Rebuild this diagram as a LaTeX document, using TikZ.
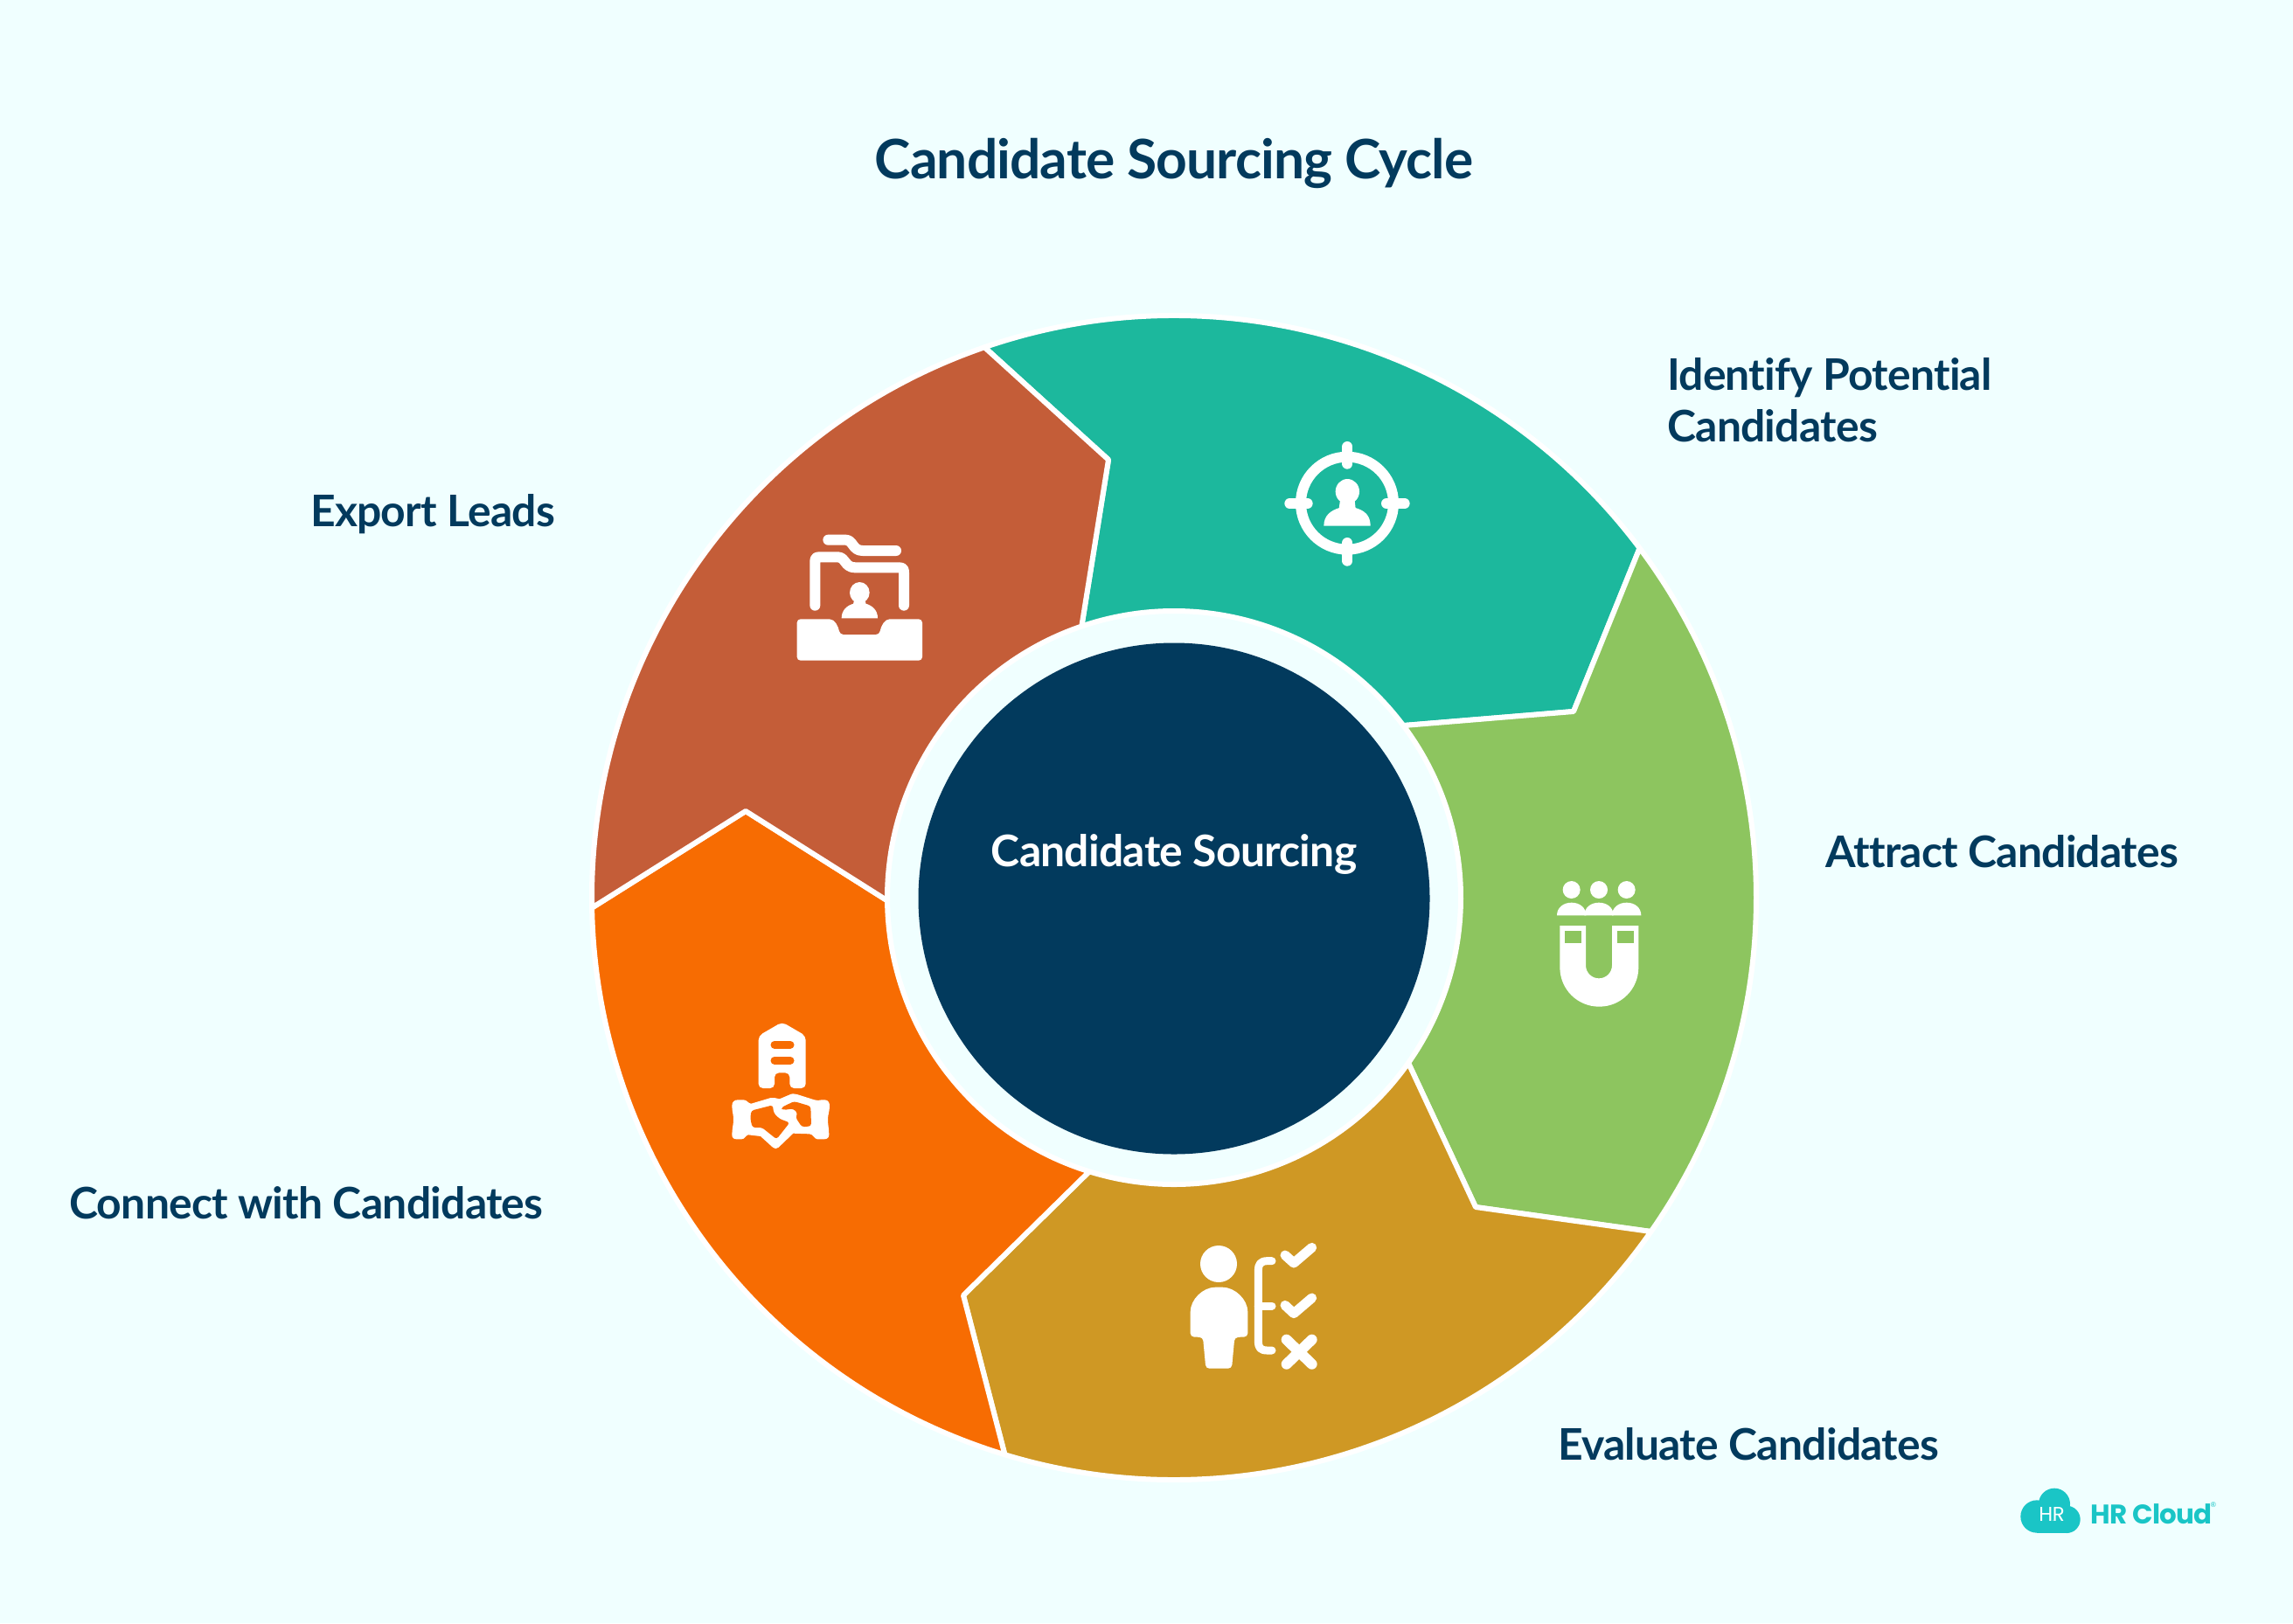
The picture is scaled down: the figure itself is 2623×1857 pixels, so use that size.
\documentclass[tikz,border=0pt]{standalone}
\usepackage{fontspec}
\setmainfont{Lato}[LetterSpace=-1.5,Ligatures=NoCommon]
\newfontfamily\logofont{Poppins}[LetterSpace=-2]
\usetikzlibrary{calc}
\definecolor{bgc}{HTML}{F0FFFF}
\definecolor{darkc}{HTML}{023A5D}
\definecolor{tealc}{HTML}{1CB89D}
\definecolor{greenc}{HTML}{8DC55F}
\definecolor{goldc}{HTML}{CF9824}
\definecolor{orangec}{HTML}{F76C02}
\definecolor{brownc}{HTML}{C45D38}
\definecolor{logoc}{HTML}{1AC5C6}
\tikzset{
  seg/.style={draw=white,line width=6bp,line join=round},
  lab/.style={text=darkc,font=\fontsize{50}{59}\selectfont\bfseries,inner sep=0pt,align=left},
  ico/.style={fill=white},
  icol/.style={draw=white,line cap=round,line join=round,line width=12bp},
  logotext/.style={text=logoc,inner sep=0pt}
}
\begin{document}
\begin{tikzpicture}[x=1bp,y=-1bp]
\fill[bgc] (0,0) rectangle (2623,1857);
\useasboundingbox (0,0) rectangle (2623,1857);
\coordinate (nBT) at (1268,526);
\coordinate (nTG) at (1800,814);
\coordinate (nGO) at (1688,1381);
\coordinate (nGR) at (1102,1482);
\coordinate (nRB) at (853,928);
% ring segments
\begin{scope}[shift={(1343,1027)},y=1bp]
\filldraw[seg,fill=tealc] (109:666) arc[start angle=109,end angle=36.9,radius=666] -- (nTG) -- (36.9:328) arc[start angle=36.9,end angle=108.8,radius=328] -- (nBT) -- cycle;
\filldraw[seg,fill=greenc] (36.9:666) arc[start angle=36.9,end angle=-35,radius=666] -- (nGO) -- (-35.2:328) arc[start angle=-35.2,end angle=36.9,radius=328] -- (nTG) -- cycle;
\filldraw[seg,fill=goldc] (-35:666) arc[start angle=-35,end angle=-106.9,radius=666] -- (nGR) -- (-107.2:328) arc[start angle=-107.2,end angle=-35.2,radius=328] -- (nGO) -- cycle;
\filldraw[seg,fill=orangec] (-106.9:666) arc[start angle=-106.9,end angle=-179,radius=666] -- (nRB) -- (-179.4:328) arc[start angle=-179.4,end angle=-107.2,radius=328] -- (nGR) -- cycle;
\filldraw[seg,fill=brownc] (-179:666) arc[start angle=-179,end angle=-251,radius=666] -- (nBT) -- (-251.2:328) arc[start angle=-251.2,end angle=-179.4,radius=328] -- (nRB) -- cycle;
\end{scope}
\node[circle,fill=darkc,minimum size=585bp,inner sep=0pt] (hub) at (1343,1028) {};
% texts
\node[lab,anchor=center,font=\fontsize{62.5}{70}\selectfont\bfseries] (title) at (1343,187) {Candidate Sourcing Cycle};
\node[lab,anchor=center,text=white] (hubtext) at (1343,977) {Candidate Sourcing};
\node[lab,anchor=west] (l1) at (1907,458) {Identify Potential\\Candidates};
\node[lab,anchor=west] (l2) at (2088,974) {Attract Candidates};
\node[lab,anchor=west] (l3) at (1782,1652) {Evaluate Candidates};
\node[lab,anchor=west] (l4) at (79,1376) {Connect with Candidates};
\node[lab,anchor=west] (l5) at (355,588) {Export Leads};
% target icon
\begin{scope}[shift={(1430,480)},scale=1/3]
\draw[icol] (333,287) circle[radius=159];
\draw[icol] (334,93)--(334,152);
\draw[icol] (334,423)--(334,485);
\draw[icol] (136,288)--(197,288);
\draw[icol] (468,288)--(530,288);
\fill[ico] (334,247) ellipse[x radius=41,y radius=43];
\fill[ico] (310,270)--(358,270)--(362,305)--(305,305)--cycle;
\fill[ico] (253,365) .. controls (253,330) and (275,312) .. (310,302) -- (358,302) .. controls (395,312) and (413,330) .. (413,365) -- cycle;
\end{scope}
% folder icon
\begin{scope}[shift={(890,590)},scale=1/3]
\draw[icol] (172,83)--(232,83) .. controls (258,83) and (255,120) .. (290,120) -- (405,120);
\draw[icol] (127,308)--(127,158) .. controls (127,146) and (130,142) .. (142,142) -- (205,142) .. controls (232,142) and (228,178) .. (265,178) -- (415,178) .. controls (428,178) and (432,182) .. (432,195) -- (432,308);
\fill[ico] (280,264) ellipse[x radius=34,y radius=36];
\fill[ico] (262,285)--(298,285)--(302,305)--(258,305)--cycle;
\fill[ico] (218,352) .. controls (218,325) and (235,308) .. (262,301) -- (298,301) .. controls (325,308) and (342,325) .. (342,352) -- cycle;
\fill[ico,rounded corners=4bp] (65,355) -- (165,355) .. controls (195,355) and (207,380) .. (212,408) -- (348,408) .. controls (353,380) and (365,355) .. (395,355) -- (495,355) -- (495,497) -- (65,497) -- cycle;
\end{scope}
% magnet icon
\begin{scope}[shift={(1760,990)},scale=1/3]
\foreach \cx in {113,207,302}{
  \fill[ico] (\cx,84) circle[radius=30];
  \fill[ico] (\cx-50,172) .. controls (\cx-50,145) and (\cx-28,128) .. (\cx,128) .. controls (\cx+28,128) and (\cx+50,145) .. (\cx+50,172) -- cycle;
}
\fill[ico] (73,207) -- (162,207) -- (162,343) .. controls (162,368) and (182,388) .. (207,388) .. controls (232,388) and (252,368) .. (252,343) -- (252,207) -- (343,207) -- (343,350) .. controls (343,425) and (283,485) .. (208,485) .. controls (133,485) and (73,425) .. (73,350) -- cycle;
\fill[greenc] (90,224) rectangle (147,268);
\fill[greenc] (270,224) rectangle (327,268);
\end{scope}
% evaluate icon
\begin{scope}[shift={(1340,1400)},scale=1/3]
\fill[ico] (162,138) circle[radius=63];
\fill[ico,rounded corners=4bp] (65,388) -- (65,315) .. controls (65,260) and (108,218) .. (163,218) .. controls (218,218) and (262,260) .. (262,315) -- (262,388) -- (217,390) -- (207,497) -- (118,497) -- (108,390) -- cycle;
\draw[icol,line width=9bp] (345,128) -- (328,128) .. controls (306,128) and (298,140) .. (298,160) -- (298,405) .. controls (298,425) and (306,435) .. (328,435) -- (345,435);
\draw[icol,line width=9bp] (298,282) -- (345,282);
\draw[icol,line width=11bp] (390,108) -- (420,135) -- (482,82);
\draw[icol,line width=11bp] (390,280) -- (420,308) -- (482,255);
\draw[icol,line width=12bp] (395,398) -- (482,482);
\draw[icol,line width=12bp] (482,398) -- (395,482);
\end{scope}
% handshake icon
\begin{scope}[shift={(820,1150)},scale=1/3]
\fill[ico,rounded corners=5bp] (224,58) -- (305,105) -- (305,285) -- (250,285) -- (250,232) -- (198,232) -- (198,285) -- (143,285) -- (143,105) -- cycle;
\draw[orangec,line width=9bp,line cap=round] (198,136) -- (252,136);
\draw[orangec,line width=9bp,line cap=round] (198,190) -- (252,190);
\fill[ico] (52,345) .. controls (52,332) and (60,325) .. (72,325) -- (92,325) .. controls (103,325) and (108,338) .. (118,338) -- (185,318) .. controls (195,316) and (205,320) .. (215,322) -- (248,308) .. controls (258,303) and (265,303) .. (275,306) -- (335,325) .. controls (345,330) and (350,325) .. (362,325) -- (370,325) .. controls (382,325) and (387,335) .. (387,345) .. controls (387,365) and (381,375) .. (381,392) .. controls (381,410) and (385,425) .. (385,445) .. controls (385,455) and (378,460) .. (368,460) -- (345,460) .. controls (335,460) and (330,442) .. (318,442) -- (262,440) -- (212,488) .. controls (205,494) and (198,494) .. (192,488) -- (150,450) -- (108,445) .. controls (98,447) and (96,460) .. (85,460) -- (68,460) .. controls (58,460) and (52,455) .. (52,445) .. controls (52,425) and (57,410) .. (57,392) .. controls (57,375) and (52,365) .. (52,345) -- cycle;
\fill[orangec,rounded corners=3bp] (118,362) -- (192,343) -- (195,370) -- (215,390) -- (250,403) -- (205,460) -- (155,420) -- (122,420) -- (115,390) -- cycle;
\fill[orangec,rounded corners=3bp] (220,352) -- (265,330) -- (322,347) -- (324,415) -- (292,418) -- (270,385) -- (278,372) -- (262,355) -- (228,360) -- cycle;
\end{scope}
% logo
\begin{scope}[shift={(2290,1690)},scale=1/3]
\fill[logoc] (180,92) circle[radius=54];
\fill[logoc] (120,135) circle[radius=56];
\fill[logoc] (222,145) circle[radius=47];
\fill[logoc] (120,150) rectangle (225,192);
\end{scope}
\node[inner sep=0pt,text=white,font=\logofont\fontsize{23}{23}\selectfont] (logohr) at (2347,1732) {HR};
\node[logotext,anchor=west,font=\logofont\fontsize{31}{31}\selectfont\bfseries] (logoname) at (2391,1732) {HR Cloud};
\node[logotext,font=\fontsize{8}{8}\selectfont] (logoreg) at (2532,1722) {®};
\end{tikzpicture}
\end{document}
